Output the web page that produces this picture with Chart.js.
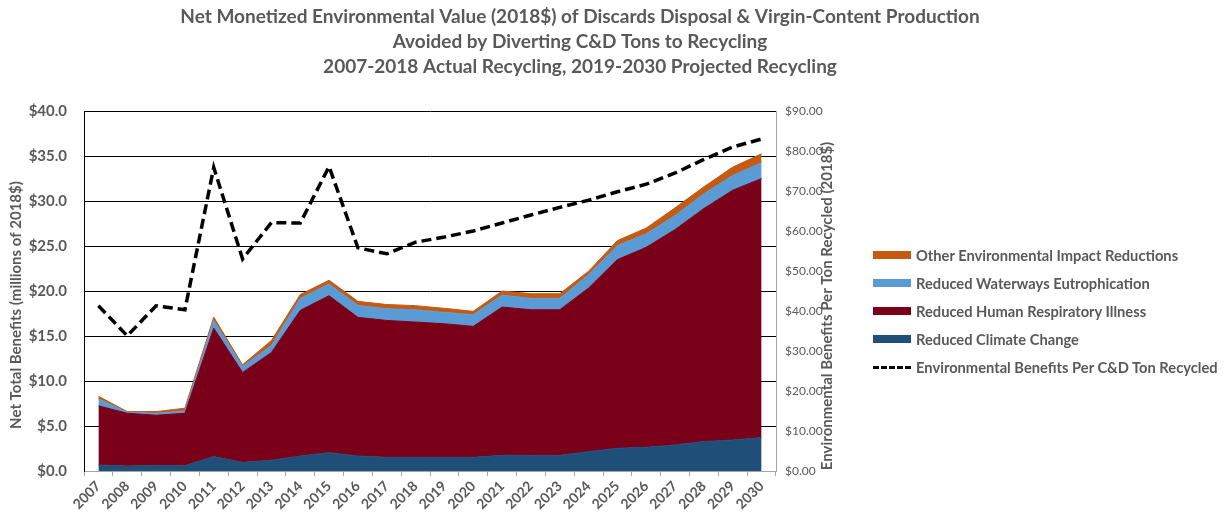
<!DOCTYPE html>
<html><head><meta charset="utf-8">
<script src="https://cdn.jsdelivr.net/npm/chart.js@4.4.1/dist/chart.umd.min.js"></script>
<style>
html,body{margin:0;padding:0;background:#fff;}
#wrap{position:relative;width:1228px;height:518px;}
#legend{position:absolute;left:873px;top:0;font-family:Lato,'Open Sans',sans-serif;font-weight:bold;font-size:14.7px;color:#595959;}
.item{position:absolute;left:0;white-space:nowrap;height:20px;display:flex;align-items:center;}
.sw{width:38px;height:8px;margin-right:5px;box-sizing:border-box;}
.dash{width:38px;height:0;margin-right:5px;border-top:3.5px dashed #000;}
</style></head>
<body><div id="wrap"><canvas id="c" width="1228" height="518"></canvas><div id="legend"></div></div>
<script>
const years = ['2007','2008','2009','2010','2011','2012','2013','2014','2015','2016','2017','2018','2019','2020','2021','2022','2023','2024','2025','2026','2027','2028','2029','2030'];
const climateChange = [0.67,0.56,0.60,0.60,1.60,0.96,1.19,1.67,2.04,1.67,1.52,1.52,1.52,1.52,1.74,1.74,1.74,2.15,2.52,2.63,2.90,3.27,3.45,3.71];
const respiratory = [6.57,5.86,5.60,5.82,14.28,9.99,11.98,16.18,17.44,15.40,15.21,15.03,14.84,14.55,16.48,16.18,16.18,18.18,20.97,22.23,23.93,25.90,27.75,28.79];
const eutrophication = [0.77,0.11,0.22,0.26,0.85,0.66,0.78,1.33,1.30,1.33,1.30,1.37,1.26,1.30,1.33,1.26,1.26,1.49,1.56,1.49,1.56,1.63,1.64,1.75];
const otherImpacts = [0.30,0.07,0.18,0.30,0.37,0.19,0.55,0.42,0.42,0.45,0.47,0.45,0.45,0.37,0.45,0.52,0.52,0.38,0.55,0.65,0.85,0.78,0.93,1.00];
const perTon = [41.3,33.8,41.3,40.3,75.9,53.0,62.1,62.0,76.1,55.8,54.3,57.2,58.5,60.0,62.0,64.0,65.9,67.7,69.8,71.7,74.5,77.9,81.0,83.0];

const seriesNames = ['Reduced Climate Change','Reduced Human Respiratory Illness','Reduced Waterways Eutrophication','Other Environmental Impact Reductions','Environmental Benefits Per C&D Ton Recycled'];
const seriesColors = ['#1F4E79','#7A0019','#5B9BD5','#C55A11','#000000'];
const titleLines = ['Net Monetized Environmental Value (2018$) of Discards Disposal & Virgin-Content Production','Avoided by Diverting C&D Tons to Recycling','2007-2018 Actual Recycling, 2019-2030 Projected Recycling'];
const leftTitle = 'Net Total Benefits (millions of 2018$)';
const rightTitle = 'Environmental Benefits Per Ton Recycled (2018$)';

const FONT = "Lato, 'Open Sans', sans-serif";
const GRAY = '#595959';

const areaSets = [climateChange, respiratory, eutrophication, otherImpacts].map((d,i)=>({
  type:'line', label:seriesNames[i], data:d, yAxisID:'y',
  backgroundColor:seriesColors[i], borderColor:seriesColors[i], borderWidth:1,
  fill: i===0 ? 'origin' : '-1', pointRadius:0, tension:0, order:1
}));
const lineSet = {type:'line', label:seriesNames[4], data:perTon, yAxisID:'y1',
  borderColor:'#000', borderWidth:3.5, borderDash:[10,5], fill:false, pointRadius:0, tension:0, order:0};

const textPlugin = {id:'texts', afterDraw(chart){
  const ctx = chart.ctx; ctx.save();
  ctx.fillStyle = GRAY; ctx.textAlign='center'; ctx.textBaseline='middle';
  ctx.font = 'bold 19px ' + FONT;
  titleLines.forEach((l,i)=>ctx.fillText(l, 580, 17 + i*25));
  ctx.font = 'bold 15px ' + FONT;
  ctx.save(); ctx.translate(16, 305); ctx.rotate(-Math.PI/2); ctx.fillText(leftTitle,0,0); ctx.restore();
  ctx.save(); ctx.translate(827, 306); ctx.rotate(-Math.PI/2); ctx.fillText(rightTitle,0,0); ctx.restore();
  ctx.restore();
}};

new Chart(document.getElementById('c'), {
  data:{labels:years, datasets:[...areaSets, lineSet]},
  plugins:[textPlugin],
  options:{
    responsive:false, devicePixelRatio:1, animation:false,
    layout:{padding:{top:111,left:0,right:0,bottom:0}},
    plugins:{legend:{display:false}, tooltip:{enabled:false}, title:{display:false}},
    scales:{
      x:{type:'category', offset:true,
        grid:{display:true, drawOnChartArea:false, drawTicks:true, tickLength:5, color:'#A6A6A6', offset:true},
        border:{display:true, color:'#A6A6A6', width:1},
        ticks:{autoSkip:false, maxRotation:45, minRotation:45, padding:2, color:GRAY, font:{family:FONT, size:14, weight:'bold'}},
        afterFit(s){ s.height = 47; }
      },
      y:{position:'left', stacked:true, min:0, max:40,
        grid:{color:'#000', drawTicks:false, lineWidth:1},
        border:{display:true, color:'#000', width:1},
        ticks:{stepSize:5, padding:17, color:GRAY, font:{family:FONT, size:15, weight:'bold'}, callback:v=>'$'+Number(v).toFixed(1)},
        afterFit(s){ s.width = 84; }
      },
      y1:{position:'right', stacked:false, min:0, max:90,
        grid:{drawOnChartArea:false, drawTicks:false},
        border:{display:true, color:'#A6A6A6', width:1},
        ticks:{stepSize:10, padding:9, color:GRAY, font:{family:FONT, size:12}, callback:v=>'$'+Number(v).toFixed(2)},
        afterFit(s){ s.width = 452; }
      }
    }
  }
});

// legend (HTML), built from the series arrays
const legend = document.getElementById('legend');
const legendOrder = [3,2,1,0,4];
legendOrder.forEach((si,k)=>{
  const it = document.createElement('div'); it.className='item'; it.style.top = (245 + k*28) + 'px';
  const sw = document.createElement('div');
  if (si===4) { sw.className='dash'; } else { sw.className='sw'; sw.style.background = seriesColors[si]; }
  it.appendChild(sw);
  const t = document.createElement('span'); t.textContent = seriesNames[si]; it.appendChild(t);
  legend.appendChild(it);
});
</script>
</body></html>
